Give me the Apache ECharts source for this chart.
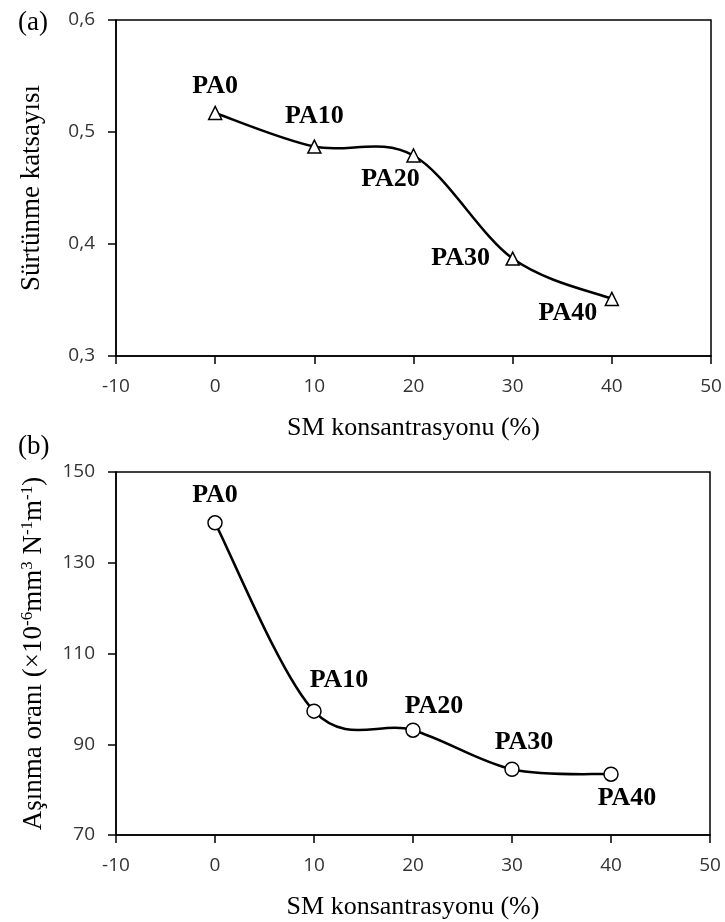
<!DOCTYPE html>
<html>
<head>
<meta charset="utf-8">
<script src="https://cdn.jsdelivr.net/npm/echarts@6/dist/echarts.min.js"></script>
<style>html,body{margin:0;padding:0;background:#fff}#c{width:725px;height:922px}</style>
</head>
<body>
<div id="c"></div>
<script>
// ---- data ----
const smConc = [0, 10, 20, 30, 40];
const sampleNames = ['PA0', 'PA10', 'PA20', 'PA30', 'PA40'];
const frictionCoef = [0.517, 0.487, 0.479, 0.387, 0.351];
const wearRate = [138.8, 97.3, 93.1, 84.5, 83.4];
const xTicks = [-10, 0, 10, 20, 30, 40, 50];
const yTicksA = [0.3, 0.4, 0.5, 0.6];
const yTicksB = [70, 90, 110, 130, 150];

// label offsets (style only)
const offsA = [[0, -27], [0, -30], [-23, 24], [-52, 0], [-44, 14]];
const offsB = [[0, -28], [25, -31], [21, -24], [12, -27], [16, 24]];

const serif = '"Liberation Serif", "Times New Roman", serif';
const sans = '"Open Sans", "Noto Sans", sans-serif';

function pointData(vals, offs) {
  return smConc.map((x, i) => ({
    value: [x, vals[i]],
    label: {
      show: true, formatter: sampleNames[i], position: 'inside',
      offset: offs[i], align: 'center', verticalAlign: 'middle',
      fontFamily: serif, fontWeight: 'bold', fontSize: 26, color: '#000'
    }
  }));
}

// smooth curve (Excel-like Bezier) computed through the axes' coordinate system
function curveSeries(vals, xi, yi) {
  return {
    type: 'custom', xAxisIndex: xi, yAxisIndex: yi, z: 2, silent: true,
    data: smConc.map((x, i) => [x, vals[i]]),
    encode: { x: 0, y: 1 },
    renderItem: function (params, api) {
      const i = params.dataIndex;
      const n = smConc.length;
      if (i >= n - 1) return null;
      const P = smConc.map((x, k) => api.coord([x, vals[k]]));
      const p0 = P[Math.max(i - 1, 0)], p1 = P[i], p2 = P[i + 1], p3 = P[Math.min(i + 2, n - 1)];
      return {
        type: 'bezierCurve',
        shape: {
          x1: p1[0], y1: p1[1], x2: p2[0], y2: p2[1],
          cpx1: p1[0] + (p2[0] - p0[0]) / 6, cpy1: p1[1] + (p2[1] - p0[1]) / 6,
          cpx2: p2[0] - (p3[0] - p1[0]) / 6, cpy2: p2[1] - (p3[1] - p1[1]) / 6
        },
        style: { stroke: '#000', lineWidth: 2.5, fill: 'none' }
      };
    }
  };
}

const axisCommon = {
  axisLine: { show: true, onZero: false, lineStyle: { color: '#000', width: 1.5 } },
  axisTick: { show: true, inside: false, length: 8, lineStyle: { color: '#000', width: 1.5 } },
  splitLine: { show: false },
  axisLabel: { fontFamily: sans, fontSize: 19, color: '#333' }
};

const chart = echarts.init(document.getElementById('c'), null, { renderer: 'canvas' });
chart.setOption({
  animation: false,
  backgroundColor: '#fff',
  title: [
    { text: '(a)', left: 13, top: 4, textStyle: { fontFamily: serif, fontWeight: 'normal', fontSize: 27, color: '#000' } },
    { text: '(b)', left: 13, top: 428, textStyle: { fontFamily: serif, fontWeight: 'normal', fontSize: 27, color: '#000' } }
  ],
  grid: [
    { left: 116, top: 20, width: 595, height: 336, show: true, borderColor: '#000', borderWidth: 1.5, backgroundColor: 'transparent' },
    { left: 116, top: 472, width: 594, height: 363, show: true, borderColor: '#000', borderWidth: 1.5, backgroundColor: 'transparent' }
  ],
  xAxis: [0, 1].map(g => Object.assign({}, axisCommon, {
    type: 'value', gridIndex: g, min: xTicks[0], max: xTicks[xTicks.length - 1], interval: 10,
    name: 'SM konsantrasyonu (%)', nameLocation: 'middle', nameGap: 59,
    nameTextStyle: { fontFamily: serif, fontSize: 26, color: '#000' },
    axisLabel: Object.assign({}, axisCommon.axisLabel, { margin: 21 })
  })),
  yAxis: [
    Object.assign({}, axisCommon, {
      type: 'value', gridIndex: 0, min: yTicksA[0], max: yTicksA[yTicksA.length - 1], interval: 0.1,
      name: 'Sürtünme katsayısı', nameLocation: 'middle', nameGap: 71, nameRotate: 90,
      nameTextStyle: { fontFamily: serif, fontSize: 27, color: '#000' },
      axisLabel: Object.assign({}, axisCommon.axisLabel, { margin: 21, formatter: v => v.toFixed(1).replace('.', ',') })
    }),
    Object.assign({}, axisCommon, {
      type: 'value', gridIndex: 1, min: yTicksB[0], max: yTicksB[yTicksB.length - 1], interval: 20,
      name: '{n|Aşınma oranı (×10}{s|-6}{n|mm}{s|3}{n| N}{s|-1}{n|m}{s|-1}{n|)}',
      nameLocation: 'middle', nameGap: 67, nameRotate: 90,
      nameTextStyle: {
        fontFamily: serif, fontSize: 27, color: '#000',
        rich: {
          n: { fontFamily: serif, fontSize: 27, color: '#000', lineHeight: 30 },
          s: { fontFamily: serif, fontSize: 17, color: '#000', lineHeight: 17, verticalAlign: 'top' }
        }
      },
      axisLabel: Object.assign({}, axisCommon.axisLabel, { margin: 21 })
    })
  ],
  series: [
    curveSeries(frictionCoef, 0, 0),
    {
      type: 'scatter', xAxisIndex: 0, yAxisIndex: 0, z: 3,
      data: pointData(frictionCoef, offsA),
      symbol: 'triangle', symbolSize: 13,
      itemStyle: { color: '#fff', borderColor: '#000', borderWidth: 1.5, opacity: 1 }
    },
    curveSeries(wearRate, 1, 1),
    {
      type: 'scatter', xAxisIndex: 1, yAxisIndex: 1, z: 3,
      data: pointData(wearRate, offsB),
      symbol: 'circle', symbolSize: 14,
      itemStyle: { color: '#fff', borderColor: '#000', borderWidth: 1.5, opacity: 1 }
    }
  ]
});
</script>
</body>
</html>
